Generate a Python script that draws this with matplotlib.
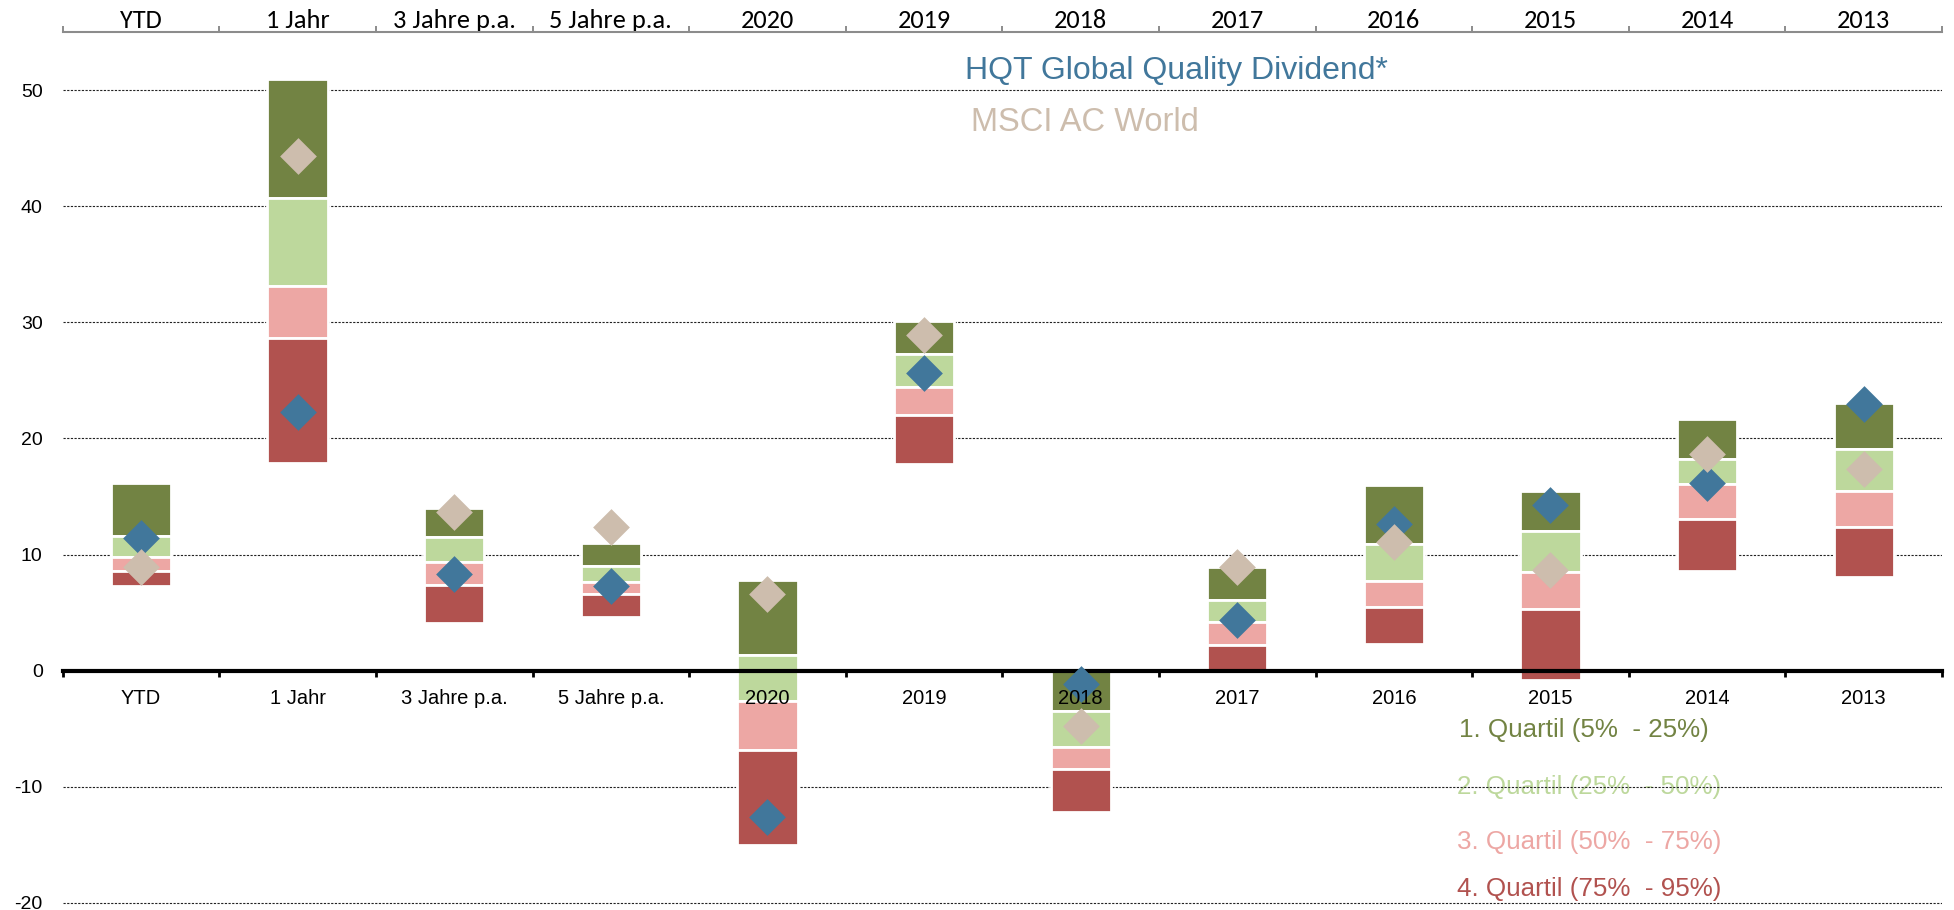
import numpy as np
import matplotlib.pyplot as plt
from matplotlib import font_manager

# categories (bottom and top axis)
cats = ['YTD', '1 Jahr', '3 Jahre p.a.', '5 Jahre p.a.', '2020', '2019',
        '2018', '2017', '2016', '2015', '2014', '2013']

# peer group percentiles (top of bar = 5%, bottom = 95%)
p5 = [16.2, 51.0, 14.0, 11.0, 7.8, 30.1, 0.2, 8.9, 16.0, 15.5, 21.65, 23.1]
p25 = [11.6, 40.7, 11.5, 9.0, 1.35, 27.25, -3.5, 6.1, 10.95, 12.05, 18.2, 19.1]
p50 = [9.8, 33.1, 9.35, 7.65, -2.6, 24.45, -6.55, 4.2, 7.7, 8.5, 16.1, 15.45]
p75 = [8.6, 28.7, 7.4, 6.6, -6.8, 22.0, -8.5, 2.2, 5.45, 5.3, 13.05, 12.4]
p95 = [7.3, 17.9, 4.1, 4.65, -15.0, 17.8, -12.2, -0.2, 2.3, -0.85, 8.6, 8.1]

# fund and benchmark
hqt = [11.4, 22.3, 8.3, 7.3, -12.6, 25.6, -1.15, 4.4, 12.6, 14.3, 16.2, 23.0]
msci = [8.9, 44.3, 13.7, 12.4, 6.6, 28.9, -4.8, 8.9, 11.1, 8.7, 18.7, 17.4]

yticks = [-20, -10, 0, 10, 20, 30, 40, 50]
quart_labels = ['1. Quartil (5%  - 25%)', '2. Quartil (25%  - 50%)',
                '3. Quartil (50%  - 75%)', '4. Quartil (75%  - 95%)']
quart_colors = ['#728343', '#BDD89C', '#EDA7A4', '#B1524F']
c_hqt = '#41779B'
c_msci = '#CDBDAD'

installed = {f.name for f in font_manager.fontManager.ttflist}
top_font = next(n for n in ['Carlito', 'Liberation Sans Narrow', 'DejaVu Sans'] if n in installed)

plt.rcParams['font.family'] = ['Liberation Sans', 'DejaVu Sans']
plt.rcParams['axes.unicode_minus'] = False

W, H = 1954, 910
fig = plt.figure(figsize=(W / 100, H / 100), dpi=100)
ax = fig.add_axes([62.7 / W, 0, (1942 - 62.7) / W, (H - 32.3) / H])

x = np.arange(len(cats))
levels = [p5, p25, p50, p75, p95]
for k in range(4):
    top = np.array(levels[k])
    bot = np.array(levels[k + 1])
    ax.bar(x, top - bot, bottom=bot, width=0.385, color=quart_colors[k],
           edgecolor='white', linewidth=2, zorder=2)

ax.scatter(x, hqt, marker='D', s=350, color=c_hqt, linewidths=0, zorder=3)
ax.scatter(x, msci, marker='D', s=350, color=c_msci, linewidths=0, zorder=3.1)

ax.set_xlim(-0.5, len(cats) - 0.5)
ax.set_ylim(-20.63, 55.0)

# y axis: labels + dotted grid, no spine
ax.set_yticks(yticks)
ax.tick_params(axis='y', length=0, pad=14.4, labelsize=14)
ax.grid(axis='y', color='#222222', linestyle=(0, (2, 1.3)), linewidth=0.8)
ax.yaxis.set_zorder(1)
for s in ['left', 'right', 'top']:
    ax.spines[s].set_visible(False)

# bottom axis sits on zero
ax.spines['bottom'].set_position(('data', 0))
ax.spines['bottom'].set_linewidth(3)
ax.spines['bottom'].set_zorder(2.5)
ax.set_xticks(np.arange(len(cats) + 1) - 0.5)
ax.set_xticklabels([])
ax.set_xticks(x, cats, minor=True)
ax.tick_params(axis='x', which='major', direction='out', length=4, width=2, color='black')
ax.tick_params(axis='x', which='minor', length=0, pad=13.5, labelsize=14.5)
ax.xaxis.set_zorder(3.5)

# top category axis
sec = ax.secondary_xaxis('top')
sec.set_xticks(np.arange(len(cats) + 1) - 0.5)
sec.set_xticklabels([])
sec.set_xticks(x, cats, minor=True)
sec.spines['top'].set_color('#8C8C8C')
sec.spines['top'].set_linewidth(1.5)
sec.tick_params(which='major', direction='out', length=4.5, width=1.4, color='#8C8C8C')
sec.tick_params(which='minor', length=0, pad=0.5, labelsize=19)
for lbl in sec.get_xticklabels(minor=True):
    lbl.set_fontfamily(top_font)
    if top_font == 'DejaVu Sans':
        lbl.set_fontsize(15)

# legend texts
ax.text(965 / W, 1 - 79 / H, 'HQT Global Quality Dividend*', transform=fig.transFigure,
        color=c_hqt, fontsize=23, va='baseline', ha='left')
ax.text(970.7 / W, 1 - 130.7 / H, 'MSCI AC World', transform=fig.transFigure,
        color=c_msci, fontsize=23.5, va='baseline', ha='left')

qx = [1459, 1457, 1457, 1457]
qy = [736.7, 794.3, 849, 895.7]
for lab, col, px, py in zip(quart_labels, quart_colors, qx, qy):
    ax.text(px / W, 1 - py / H, lab, transform=fig.transFigure, color=col,
            fontsize=18.7, va='baseline', ha='left', zorder=0.5)

fig.savefig('out.png', dpi=100)
